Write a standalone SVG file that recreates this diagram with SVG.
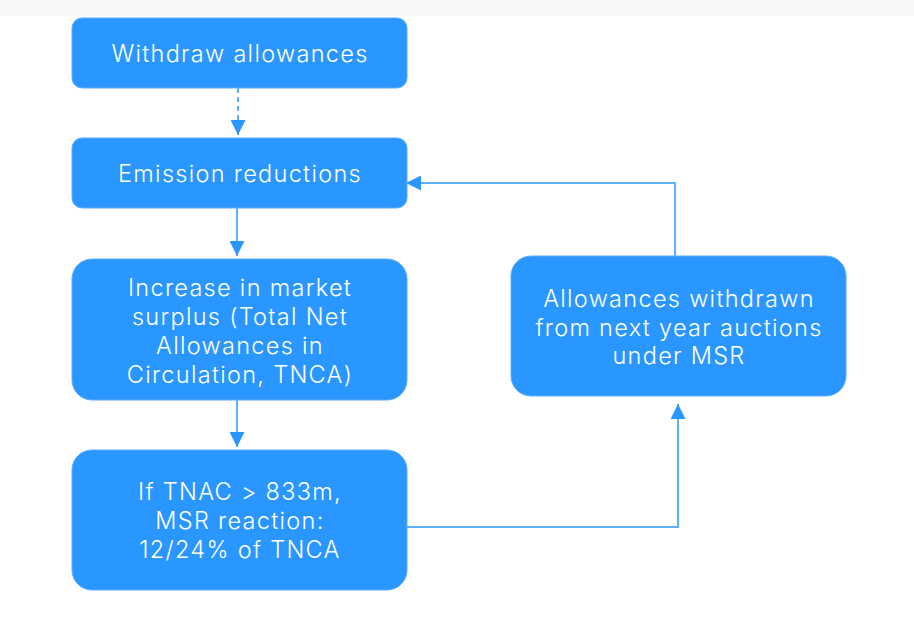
<svg xmlns="http://www.w3.org/2000/svg" width="914" height="620" viewBox="0 0 914 620">
<defs>
<style>
.box{fill:#2997ff;stroke:#5aaeff;stroke-width:1}
.t{font-family:Inter,"Noto Sans","Liberation Sans",sans-serif;font-size:23.500px;fill:#ffffff;text-anchor:middle;dominant-baseline:central;font-weight:300;letter-spacing:1.3px}
.c{fill:none;stroke:#2997ff;stroke-width:1.5}
</style>
<marker id="ahb" viewBox="0 0 10 10" refX="10" refY="5" markerWidth="15" markerHeight="15" markerUnits="userSpaceOnUse" orient="auto">
<path d="M0,0 L10,5 L0,10 Z" fill="#2997ff"/>
</marker>
</defs>
<rect x="0" y="0" width="914" height="620" fill="#ffffff"/>
<rect x="0" y="0" width="914" height="16" fill="#f8f8f8"/>
<g id="connectors">
<path class="c" d="M238,88 V135" stroke-dasharray="5,4" marker-end="url(#ahb)"/>
<path class="c" d="M237,208 V256" marker-end="url(#ahb)"/>
<path class="c" d="M237,400 V447" marker-end="url(#ahb)"/>
<path class="c" d="M407,527 H678 V404" marker-end="url(#ahb)"/>
<path class="c" d="M675,256 V183 H406" marker-end="url(#ahb)"/>
</g>
<g id="n1">
<rect class="box" x="72" y="18" width="335" height="70" rx="10"/>
<text class="t" x="240" y="53">Withdraw allowances</text>
</g>
<g id="n2">
<rect class="box" x="72" y="138" width="335" height="70" rx="10"/>
<text class="t" x="240" y="173">Emission reductions</text>
</g>
<g id="n3">
<rect class="box" x="72" y="259" width="335" height="141" rx="20"/>
<text class="t" x="240" y="287">Increase in market</text>
<text class="t" x="240" y="316">surplus (Total Net</text>
<text class="t" x="240" y="345">Allowances in</text>
<text class="t" x="240" y="374">Circulation, TNCA)</text>
</g>
<g id="n4">
<rect class="box" x="72" y="450" width="335" height="140" rx="20"/>
<text class="t" x="240" y="491">If TNAC &gt; 833m,</text>
<text class="t" x="240" y="520">MSR reaction:</text>
<text class="t" x="240" y="549">12/24% of TNCA</text>
</g>
<g id="n5">
<rect class="box" x="511" y="256" width="335" height="140" rx="20"/>
<text class="t" x="679" y="298">Allowances withdrawn</text>
<text class="t" x="679" y="327">from next year auctions</text>
<text class="t" x="679" y="355">under MSR</text>
</g>
</svg>
